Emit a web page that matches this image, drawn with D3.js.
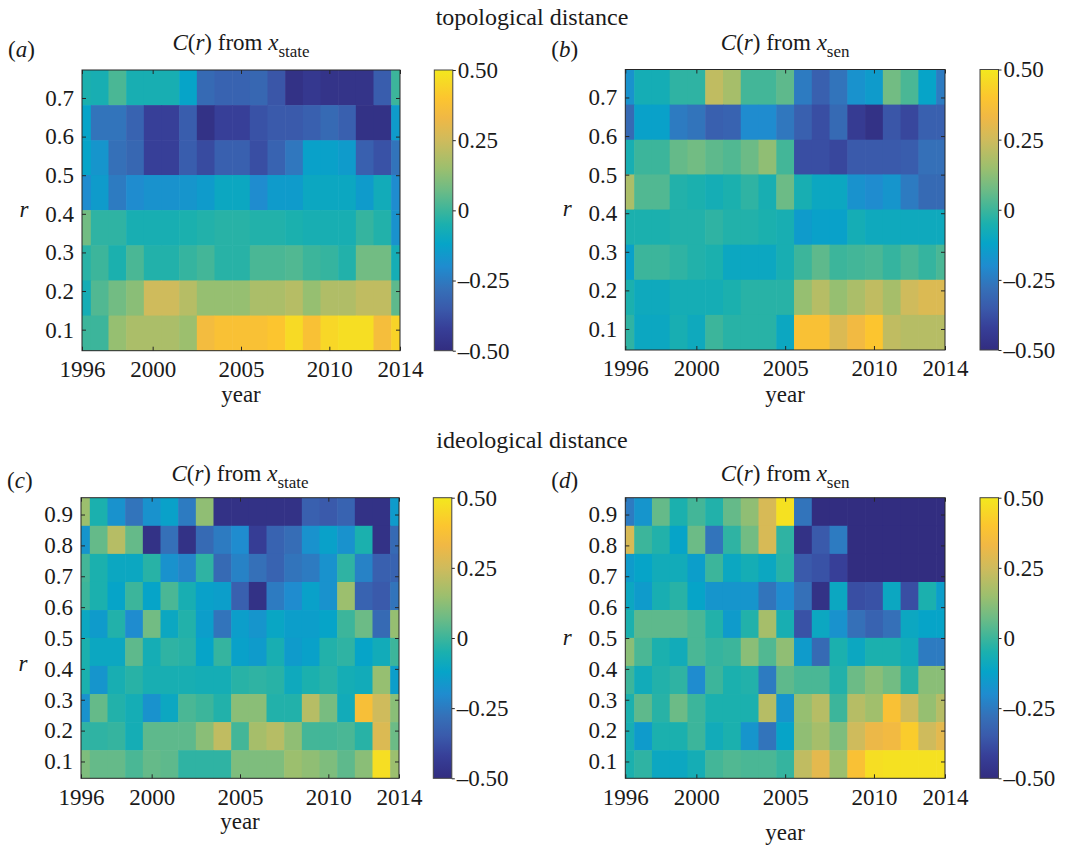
<!DOCTYPE html>
<html>
<head>
<meta charset="utf-8">
<script src="https://cdn.jsdelivr.net/npm/d3@7"></script>
<style>
  body { margin: 0; background: #fff; }
  svg text { font-family: "Liberation Serif", "Times New Roman", serif; fill: #1a1a1a; }
</style>
</head>
<body>
<svg id="chart" width="1076" height="847"></svg>
<script>
// years (columns) and r values (rows, listed top to bottom)
const years = [1996, 1997, 1998, 1999, 2000, 2001, 2002, 2003, 2004, 2005,
               2006, 2007, 2008, 2009, 2010, 2011, 2012, 2013, 2014];
const rTopo = [0.727, 0.636, 0.545, 0.455, 0.364, 0.273, 0.182, 0.091];
const rIdeo = [0.909, 0.818, 0.727, 0.636, 0.545, 0.455, 0.364, 0.273, 0.182, 0.091];

const yearTicks = [1996, 2000, 2005, 2010, 2014];
const rTicksTopo = [0.1, 0.2, 0.3, 0.4, 0.5, 0.6, 0.7];
const rTicksIdeo = [0.1, 0.2, 0.3, 0.4, 0.5, 0.6, 0.7, 0.8, 0.9];
const cbarTicks = [-0.5, -0.25, 0, 0.25, 0.5];
const cbarLabels = ["\u20130.50", "\u20130.25", "0", "0.25", "0.50"];

// (a) topological distance, C(r) from x_state  (rows top -> bottom)
const topoState = [
  [-0.05,-0.06, 0.02,-0.06,-0.06,-0.06,-0.12,-0.30,-0.32,-0.32,-0.31,-0.36,-0.48,-0.45,-0.47,-0.47,-0.47,-0.34, 0.00],
  [-0.12,-0.27,-0.27,-0.32,-0.42,-0.42,-0.34,-0.48,-0.42,-0.42,-0.37,-0.35,-0.35,-0.33,-0.30,-0.33,-0.48,-0.48,-0.15],
  [-0.12,-0.17,-0.28,-0.31,-0.42,-0.42,-0.34,-0.39,-0.33,-0.33,-0.38,-0.32,-0.26,-0.13,-0.13,-0.15,-0.33,-0.37,-0.27],
  [-0.20,-0.15,-0.25,-0.20,-0.18,-0.18,-0.17,-0.15,-0.10,-0.10,-0.20,-0.15,-0.15,-0.10,-0.10,-0.10,-0.15,-0.08,-0.20],
  [ 0.08,-0.02,-0.02,-0.06,-0.06,-0.06,-0.05,-0.04,-0.03,-0.03,-0.04,-0.04,-0.05,-0.06,-0.06,-0.06,-0.01,-0.04,-0.18],
  [-0.03, 0.00,-0.05, 0.02,-0.04,-0.04,-0.01, 0.01,-0.03,-0.03, 0.02, 0.02, 0.03, 0.00,-0.01,-0.04, 0.08, 0.08,-0.07],
  [-0.07, 0.03, 0.08, 0.12, 0.25, 0.25, 0.20, 0.14, 0.14, 0.14, 0.18, 0.18, 0.20, 0.14, 0.19, 0.19, 0.22, 0.22, 0.05],
  [ 0.00, 0.00, 0.14, 0.18, 0.18, 0.18, 0.15, 0.35, 0.38, 0.38, 0.38, 0.40, 0.46, 0.38, 0.45, 0.47, 0.47, 0.36, 0.44]
];

// (b) topological distance, C(r) from x_sen
const topoSen = [
  [-0.18,-0.07,-0.07,-0.02,-0.02, 0.22, 0.17, 0.01, 0.01, 0.05,-0.25,-0.33,-0.27,-0.18,-0.15, 0.08, 0.02,-0.12,-0.25],
  [-0.30,-0.13,-0.13,-0.25,-0.27,-0.33,-0.32,-0.20,-0.20,-0.26,-0.33,-0.38,-0.30,-0.44,-0.48,-0.36,-0.40,-0.33,-0.33],
  [-0.06, 0.00, 0.00, 0.06, 0.08, 0.05, 0.03, 0.07, 0.13, 0.01,-0.38,-0.38,-0.40,-0.35,-0.35,-0.35,-0.34,-0.28,-0.28],
  [ 0.18, 0.03, 0.03,-0.04,-0.05,-0.07,-0.05,-0.02,-0.06, 0.07,-0.06,-0.10,-0.10,-0.18,-0.20,-0.17,-0.25,-0.30,-0.30],
  [-0.05,-0.05,-0.05,-0.04,-0.04,-0.02,-0.04,-0.04,-0.05,-0.06,-0.15,-0.13,-0.13,-0.07,-0.09,-0.09,-0.09,-0.09,-0.09],
  [-0.13, 0.00, 0.00,-0.02,-0.04,-0.05,-0.10,-0.10,-0.10,-0.06, 0.00, 0.05, 0.00, 0.01, 0.02,-0.01, 0.02,-0.01, 0.02],
  [-0.05,-0.09,-0.09,-0.07,-0.07,-0.07,-0.05,-0.03,-0.03,-0.03, 0.14, 0.20, 0.14, 0.18, 0.22, 0.17, 0.25, 0.28, 0.28],
  [-0.02,-0.10,-0.10,-0.06,-0.09, 0.00,-0.03,-0.03,-0.03,-0.10, 0.38, 0.38, 0.28, 0.34, 0.40, 0.22, 0.20, 0.20, 0.20]
];

// (c) ideological distance, C(r) from x_state
const ideoState = [
  [ 0.15,-0.05,-0.18,-0.27,-0.18,-0.13,-0.25, 0.13,-0.48,-0.48,-0.48,-0.48,-0.48,-0.33,-0.35,-0.32,-0.48,-0.48,-0.15],
  [-0.17, 0.06, 0.20, 0.06,-0.48,-0.28,-0.48,-0.30,-0.25,-0.20,-0.43,-0.32,-0.29,-0.18,-0.13,-0.18,-0.05,-0.48,-0.30],
  [ 0.01,-0.05,-0.10,-0.10,-0.03,-0.18,-0.22,-0.02,-0.30,-0.23,-0.28,-0.32,-0.27,-0.25,-0.18,-0.02,-0.23,-0.33,-0.32],
  [ 0.00,-0.05,-0.12, 0.00,-0.12, 0.02,-0.06,-0.13,-0.14,-0.33,-0.48,-0.25,-0.20,-0.13,-0.18, 0.15,-0.32,-0.35,-0.27],
  [-0.10,-0.15,-0.04,-0.20, 0.08,-0.10,-0.04,-0.14,-0.27,-0.14,-0.17,-0.11,-0.14,-0.14,-0.12, 0.00, 0.07,-0.30, 0.14],
  [-0.05,-0.10,-0.10, 0.05,-0.07,-0.02,-0.03,-0.12,-0.01,-0.13,-0.15,-0.06,-0.15,-0.13,-0.04,-0.02,-0.12,-0.08, 0.00],
  [-0.05,-0.17,-0.06,-0.03,-0.06,-0.06,-0.06,-0.07,-0.07,-0.03,-0.02,-0.03,-0.09,-0.05,-0.03,-0.07,-0.08, 0.14,-0.14],
  [-0.18, 0.06,-0.04,-0.07,-0.18,-0.10, 0.02, 0.00,-0.04, 0.12, 0.12,-0.04,-0.04, 0.20, 0.09,-0.08, 0.37, 0.25, 0.12],
  [-0.02,-0.02,-0.01,-0.07, 0.05, 0.05, 0.05, 0.12, 0.22, 0.01, 0.17, 0.20, 0.13, 0.01, 0.01, 0.02,-0.03, 0.28, 0.07],
  [ 0.10, 0.06, 0.06, 0.02, 0.06, 0.05,-0.02,-0.02,-0.02, 0.10, 0.10, 0.10, 0.15, 0.13, 0.10, 0.05, 0.12, 0.47, 0.15]
];

// (d) ideological distance, C(r) from x_sen
const ideoSen = [
  [-0.25,-0.17, 0.06,-0.05, 0.01,-0.04, 0.06, 0.13, 0.27, 0.48,-0.27,-0.50,-0.50,-0.50,-0.50,-0.50,-0.50,-0.50,-0.50],
  [ 0.27, 0.00,-0.04,-0.12, 0.07,-0.27,-0.02, 0.08, 0.27,-0.02,-0.48,-0.35,-0.25,-0.50,-0.50,-0.50,-0.50,-0.50,-0.50],
  [-0.15,-0.12,-0.08,-0.08,-0.14, 0.00,-0.10,-0.07,-0.10,-0.03,-0.35,-0.37,-0.42,-0.50,-0.50,-0.50,-0.50,-0.50,-0.50],
  [-0.10,-0.15,-0.06,-0.03,-0.12,-0.17,-0.17,-0.17,-0.27,-0.20,-0.28,-0.48,-0.10,-0.38,-0.37,-0.10,-0.38,-0.05,-0.14],
  [-0.05, 0.05, 0.05, 0.05, 0.02,-0.04,-0.15,-0.04, 0.17,-0.06,-0.37,-0.10,-0.18,-0.28,-0.32,-0.28,-0.10,-0.12,-0.12],
  [ 0.12, 0.02,-0.05,-0.08, 0.02,-0.01, 0.00, 0.12, 0.03, 0.13,-0.15,-0.30,-0.05,-0.10,-0.05,-0.05,-0.08,-0.25,-0.25],
  [ 0.00,-0.08,-0.04,-0.02,-0.20, 0.00,-0.05,-0.04,-0.25, 0.05, 0.02, 0.02,-0.04, 0.07, 0.12, 0.08,-0.03, 0.12, 0.12],
  [-0.05, 0.05,-0.03, 0.07, 0.00,-0.05,-0.05,-0.05, 0.20,-0.17, 0.14, 0.20, 0.00, 0.20, 0.16, 0.38, 0.25, 0.14, 0.20],
  [-0.06,-0.15,-0.05,-0.05, 0.00,-0.08,-0.05,-0.17,-0.27,-0.12, 0.13, 0.17, 0.10, 0.25, 0.32, 0.34, 0.42, 0.25, 0.30],
  [-0.05,-0.02,-0.10,-0.10,-0.07, 0.01, 0.03, 0.02, 0.02,-0.01, 0.22, 0.30, 0.15, 0.38, 0.47, 0.48, 0.48, 0.48, 0.48]
];

// parula-like colour map, as it appears in the printed figure
const cmapStops = [-0.5, -0.42, -0.35, -0.28, -0.2, -0.12, -0.05, 0, 0.07, 0.15, 0.25, 0.33, 0.4, 0.5];
const cmapColors = ["#322d80", "#373f98", "#3a5aab", "#3570b8", "#1f8ccf", "#06a4c8", "#1bb0ae",
                    "#3cb59b", "#6cbb86", "#9cbf6e", "#cfbb5c", "#f0b845", "#fcc52f", "#f3e81e"];

const color = d3.scaleLinear()
    .domain(cmapStops)
    .range(cmapColors)
    .clamp(true);

const svg = d3.select("#chart");
const serif = '"Liberation Serif", "Times New Roman", serif';

// gradient for the colour bars
const grad = svg.append("defs").append("linearGradient")
    .attr("id", "parula")
    .attr("x1", 0).attr("y1", 1).attr("x2", 0).attr("y2", 0);
grad.selectAll("stop")
    .data(cmapColors)
    .join("stop")
    .attr("offset", (d, i) => cmapStops[i] + 0.5)
    .attr("stop-color", d => d);

// section headings
svg.append("text").attr("x", 532).attr("y", 25).attr("text-anchor", "middle")
    .style("font-size", "24px").text("topological distance");
svg.append("text").attr("x", 532).attr("y", 448).attr("text-anchor", "middle")
    .style("font-size", "24px").text("ideological distance");

const panels = [
  { id: "a", values: topoState, r: rTopo, rTicks: rTicksTopo, sub: "state",
    left: 82, right: 400, top: 70, bottom: 350.7, cb: 434.3, rY: 217, yearY: 402, titleY: 50 },
  { id: "b", values: topoSen, r: rTopo, rTicks: rTicksTopo, sub: "sen",
    left: 625.3, right: 945, top: 69.5, bottom: 350, cb: 980, rY: 216, yearY: 402, titleY: 50 },
  { id: "c", values: ideoState, r: rIdeo, rTicks: rTicksIdeo, sub: "state",
    left: 81, right: 399, top: 497.7, bottom: 778.3, cb: 433.3, rY: 671, yearY: 829, titleY: 481 },
  { id: "d", values: ideoSen, r: rIdeo, rTicks: rTicksIdeo, sub: "sen",
    left: 625.3, right: 945, top: 497.7, bottom: 778.3, cb: 980, rY: 645, yearY: 840, titleY: 481 }
];

panels.forEach(drawPanel);

function styleAxis(a, fontSize) {
  a.attr("font-family", null).attr("font-size", null);
  a.select(".domain").remove();
  a.selectAll(".tick line").attr("stroke", "#262626");
  a.selectAll("text")
    .style("font-family", serif)
    .style("font-size", fontSize)
    .attr("fill", "#1a1a1a");
}

function drawPanel(p) {
  const g = svg.append("g");
  const step = p.r[0] - p.r[1];
  const rMax = p.r[0], rMin = p.r[p.r.length - 1];

  const x = d3.scaleLinear().domain([1996, 2014]).range([p.left, p.right]);
  const y = d3.scaleLinear().domain([rMin - step / 2, rMax + step / 2]).range([p.bottom, p.top]);

  g.append("clipPath").attr("id", "clip-" + p.id)
    .append("rect")
    .attr("x", p.left).attr("y", p.top)
    .attr("width", p.right - p.left).attr("height", p.bottom - p.top);

  const cells = [];
  p.values.forEach((row, i) => row.forEach((v, j) => cells.push({ year: years[j], r: p.r[i], v: v })));

  g.append("g").attr("clip-path", `url(#clip-${p.id})`)
    .selectAll("rect")
    .data(cells)
    .join("rect")
    .attr("x", d => x(d.year - 0.5))
    .attr("y", d => y(d.r + step / 2))
    .attr("width", d => x(d.year + 0.5) - x(d.year - 0.5) + 0.6)
    .attr("height", d => y(d.r - step / 2) - y(d.r + step / 2) + 0.6)
    .attr("fill", d => color(d.v));

  // axes with inward ticks on all four sides
  const xb = g.append("g").attr("transform", `translate(0,${p.bottom})`)
    .call(d3.axisBottom(x).tickValues(yearTicks).tickFormat(d3.format("d"))
      .tickSizeInner(-4).tickSizeOuter(0).tickPadding(10));
  const xt = g.append("g").attr("transform", `translate(0,${p.top})`)
    .call(d3.axisTop(x).tickValues(yearTicks).tickFormat("")
      .tickSizeInner(-4).tickSizeOuter(0));
  const yl = g.append("g").attr("transform", `translate(${p.left},0)`)
    .call(d3.axisLeft(y).tickValues(p.rTicks).tickFormat(d3.format(".1f"))
      .tickSizeInner(-4).tickSizeOuter(0).tickPadding(8));
  const yr = g.append("g").attr("transform", `translate(${p.right},0)`)
    .call(d3.axisRight(y).tickValues(p.rTicks).tickFormat("")
      .tickSizeInner(-4).tickSizeOuter(0));

  [xb, xt, yl, yr].forEach(a => styleAxis(a, "23px"));

  g.append("rect")
    .attr("x", p.left).attr("y", p.top)
    .attr("width", p.right - p.left).attr("height", p.bottom - p.top)
    .attr("fill", "none").attr("stroke", "#262626").attr("stroke-width", 1);

  // colour bar
  const cbW = 18.5;
  const cy = d3.scaleLinear().domain([-0.5, 0.5]).range([p.bottom, p.top]);
  g.append("rect")
    .attr("x", p.cb).attr("y", p.top)
    .attr("width", cbW).attr("height", p.bottom - p.top)
    .attr("fill", "url(#parula)")
    .attr("stroke", "#444").attr("stroke-width", 1);
  const cbAxis = g.append("g").attr("transform", `translate(${p.cb + cbW},0)`)
    .call(d3.axisRight(cy).tickValues(cbarTicks)
      .tickFormat((d, i) => cbarLabels[i])
      .tickSizeInner(3).tickSizeOuter(0).tickPadding(2));
  styleAxis(cbAxis, "23px");

  // labels
  g.append("text")
    .attr("x", (p.left + p.right) / 2).attr("y", p.yearY)
    .attr("text-anchor", "middle").style("font-size", "23px")
    .text("year");

  g.append("text")
    .attr("x", p.left - 58).attr("y", p.rY)
    .attr("text-anchor", "middle").style("font-size", "23px").style("font-style", "italic")
    .text("r");

  g.append("text")
    .attr("x", p.left - 74).attr("y", p.titleY + 7)
    .style("font-size", "23px")
    .call(t => {
      t.append("tspan").text("(");
      t.append("tspan").style("font-style", "italic").text(p.id);
      t.append("tspan").text(")");
    });

  const title = g.append("text")
    .attr("x", (p.left + p.right) / 2).attr("y", p.titleY)
    .attr("text-anchor", "middle").style("font-size", "23px");
  title.append("tspan").style("font-style", "italic").text("C");
  title.append("tspan").text("(");
  title.append("tspan").style("font-style", "italic").text("r");
  title.append("tspan").text(") from ");
  title.append("tspan").style("font-style", "italic").text("x");
  title.append("tspan").attr("dy", 7).style("font-size", "17px").text(p.sub);
}
</script>
</body>
</html>
